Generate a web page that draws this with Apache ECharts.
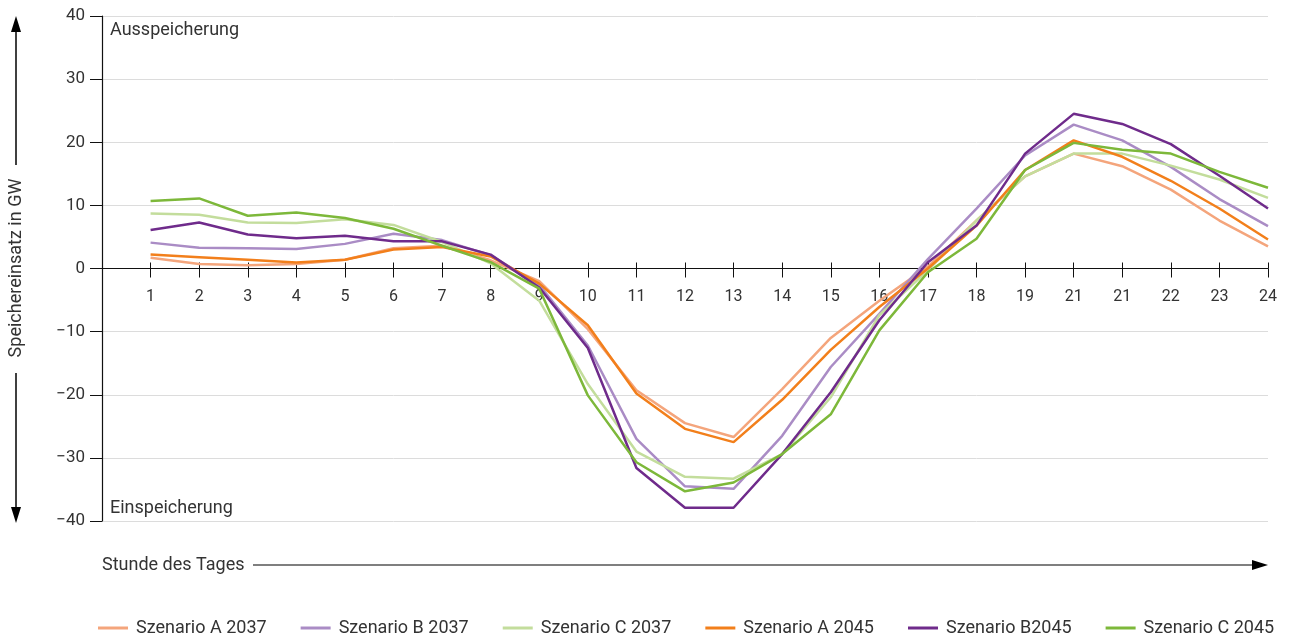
<!DOCTYPE html>
<html>
<head>
<meta charset="utf-8">
<script src="https://cdn.jsdelivr.net/npm/echarts@6/dist/echarts.min.js"></script>
<style>
  html, body { margin: 0; padding: 0; background: #fff; }
  #chart { width: 1290px; height: 637px; }
</style>
</head>
<body>
<div id="chart"></div>
<script>
// Stunden des Tages (Beschriftung wie im Original, inkl. doppelter "21")
const hourLabels = ['1','2','3','4','5','6','7','8','9','10','11','12','13','14','15','16','17','18','19','21','21','22','23','24'];

// Speichereinsatz in GW je Stunde
const szenarioA2037 = [1.7, 0.7, 0.5, 0.7, 1.4, 3.2, 3.6, 1.3, -2.0, -9.6, -19.3, -24.5, -26.7, -19.1, -11.0, -5.1, 0.3, 7.6, 14.6, 18.2, 16.2, 12.5, 7.6, 3.5];
const szenarioB2037 = [4.1, 3.3, 3.2, 3.1, 3.9, 5.5, 4.5, 2.1, -2.6, -12.2, -27.0, -34.5, -34.9, -26.5, -15.6, -7.2, 1.5, 9.5, 17.9, 22.8, 20.3, 16.1, 11.0, 6.7];
const szenarioC2037 = [8.7, 8.5, 7.3, 7.2, 7.8, 6.9, 4.2, 0.8, -5.1, -18.3, -29.0, -33.0, -33.3, -29.4, -20.4, -7.4, -0.3, 7.6, 14.6, 18.2, 18.2, 16.3, 14.1, 11.2];
const szenarioA2045 = [2.2, 1.8, 1.4, 0.95, 1.4, 3.0, 3.4, 1.9, -2.4, -9.0, -19.8, -25.4, -27.5, -20.8, -12.9, -6.1, 0.0, 6.8, 15.6, 20.3, 17.7, 13.9, 9.5, 4.6];
const szenarioB2045 = [6.1, 7.3, 5.4, 4.8, 5.2, 4.3, 4.3, 2.2, -3.0, -12.6, -31.6, -37.9, -37.9, -29.4, -19.6, -8.2, 1.0, 6.8, 18.2, 24.5, 22.9, 19.7, 14.7, 9.5];
const szenarioC2045 = [10.7, 11.1, 8.35, 8.87, 8.0, 6.3, 3.6, 1.0, -3.2, -20.1, -30.7, -35.3, -33.9, -29.4, -23.1, -9.8, -0.6, 4.7, 15.6, 19.9, 18.8, 18.2, 15.3, 12.8];

const yTicks = { min: -40, max: 40, step: 10 };

const seriesDefs = [
  { name: 'Szenario A 2037', data: szenarioA2037, color: '#f4a57c' },
  { name: 'Szenario B 2037', data: szenarioB2037, color: '#aa8cc5' },
  { name: 'Szenario C 2037', data: szenarioC2037, color: '#c3dd9c' },
  { name: 'Szenario A 2045', data: szenarioA2045, color: '#f27f1b' },
  { name: 'Szenario B2045',  data: szenarioB2045, color: '#6f2b8b' },
  { name: 'Szenario C 2045', data: szenarioC2045, color: '#7db83a' }
];

const FONT = 'Roboto, "DejaVu Sans", sans-serif';
const TEXT = '#333';

// leerer Slot an Position 0, damit Stunde 1 einen Schritt rechts der y-Achse liegt
const xCats = [''].concat(hourLabels);

const chart = echarts.init(document.getElementById('chart'));

const GRID_TOP = 16, GRID_BOTTOM = 116, CHART_H = 637;
const gridBox = { left: 102, right: 22, top: GRID_TOP, bottom: GRID_BOTTOM, containLabel: false };
// Abstand von der Rasterunterkante zur Nulllinie (Wertebereich symmetrisch um 0)
const zeroOffset = -(CHART_H - GRID_TOP - GRID_BOTTOM) / 2;

chart.setOption({
  animation: false,
  textStyle: { fontFamily: FONT },
  // zweites, deckungsgleiches Raster nur für die nach oben zeigenden Teilstriche der Nulllinie
  grid: [Object.assign({}, gridBox), Object.assign({}, gridBox)],
  legend: {
    top: 614,
    left: 93,
    itemWidth: 30,
    itemHeight: 3,
    itemGap: 34,
    icon: 'rect',
    textStyle: { fontFamily: FONT, fontSize: 18, color: TEXT, padding: [0, 0, 0, 3] },
    data: seriesDefs.map(s => s.name)
  },
  xAxis: [
    {
      type: 'category',
      gridIndex: 0,
      data: xCats,
      boundaryGap: false,
      position: 'bottom',
      offset: zeroOffset,
      axisLine: { onZero: false, lineStyle: { color: '#111', width: 1.2 } },
      axisTick: { show: true, inside: false, length: 9, interval: 0, lineStyle: { color: '#111' } },
      axisLabel: { show: true, interval: 0, margin: 20, fontSize: 16, color: TEXT, fontFamily: FONT },
      splitLine: { show: false }
    },
    {
      type: 'category',
      gridIndex: 1,
      data: xCats,
      boundaryGap: false,
      axisLine: { show: false, onZero: true },
      axisTick: { show: true, inside: true, length: 6, interval: 0, lineStyle: { color: '#111' } },
      axisLabel: { show: false },
      splitLine: { show: false }
    }
  ],
  yAxis: [
    {
      type: 'value',
      gridIndex: 0,
      min: yTicks.min,
      max: yTicks.max,
      interval: yTicks.step,
      axisLine: { show: true, lineStyle: { color: '#111', width: 1.2 } },
      axisTick: { show: true, inside: false, length: 12, lineStyle: { color: '#111' } },
      axisLabel: {
        margin: 17,
        fontSize: 17,
        color: TEXT,
        fontFamily: FONT,
        formatter: v => (v < 0 ? '\u2212' + Math.abs(v) : String(v))
      },
      splitLine: { show: true, lineStyle: { color: '#dcdcdc', width: 1 } }
    },
    {
      type: 'value',
      gridIndex: 1,
      min: yTicks.min,
      max: yTicks.max,
      interval: yTicks.step,
      show: false,
      splitLine: { show: false }
    }
  ],
  series: seriesDefs.map(s => ({
    name: s.name,
    type: 'line',
    xAxisIndex: 0,
    yAxisIndex: 0,
    data: [null].concat(s.data),
    symbol: 'none',
    smooth: false,
    color: s.color,
    lineStyle: { color: s.color, width: 2.5 },
    emphasis: { disabled: true }
  })),
  graphic: [
    // Achsentitel links mit Pfeilen
    { type: 'text', x: 16, y: 268, rotation: Math.PI / 2,
      style: { text: 'Speichereinsatz in GW', font: '18px ' + FONT, fill: TEXT, textAlign: 'center', textVerticalAlign: 'middle' } },
    { type: 'line', shape: { x1: 16, y1: 165, x2: 16, y2: 30 }, style: { stroke: '#000', lineWidth: 1.5 } },
    { type: 'polygon', shape: { points: [[16, 16], [11, 32], [21, 32]] }, style: { fill: '#000' } },
    { type: 'line', shape: { x1: 16, y1: 373, x2: 16, y2: 508 }, style: { stroke: '#000', lineWidth: 1.5 } },
    { type: 'polygon', shape: { points: [[16, 523], [11, 507], [21, 507]] }, style: { fill: '#000' } },
    // Bereichsbeschriftungen
    { type: 'text', x: 110, y: 30, style: { text: 'Ausspeicherung', font: '18px ' + FONT, fill: TEXT, textVerticalAlign: 'middle' } },
    { type: 'text', x: 110, y: 508, style: { text: 'Einspeicherung', font: '18px ' + FONT, fill: TEXT, textVerticalAlign: 'middle' } },
    // Zeitachse mit Pfeil
    { type: 'text', x: 102, y: 565, style: { text: 'Stunde des Tages', font: '18px ' + FONT, fill: TEXT, textVerticalAlign: 'middle' } },
    { type: 'line', shape: { x1: 253, y1: 565, x2: 1254, y2: 565 }, style: { stroke: '#000', lineWidth: 1.2 } },
    { type: 'polygon', shape: { points: [[1268, 565], [1252, 560], [1252, 570]] }, style: { fill: '#000' } }
  ]
});
</script>
</body>
</html>
